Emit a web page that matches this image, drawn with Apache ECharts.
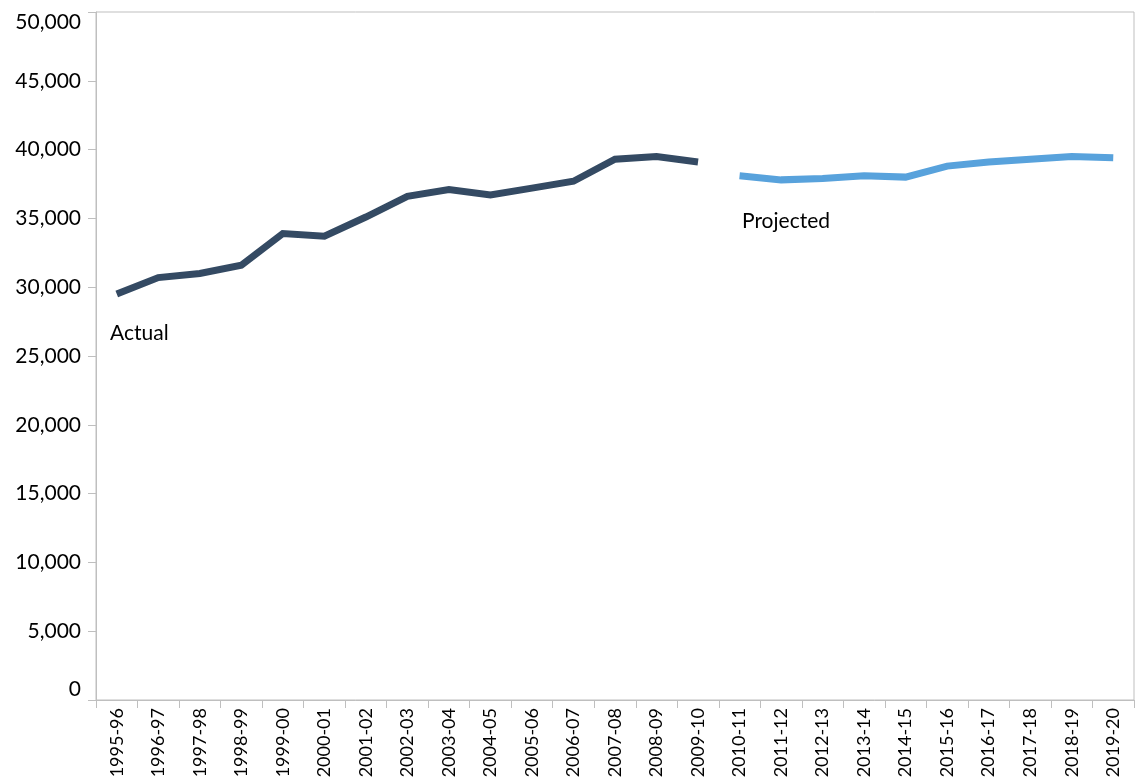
<!DOCTYPE html>
<html>
<head>
<meta charset="utf-8">
<title>Actual and projected enrolment</title>
<script src="https://cdn.jsdelivr.net/npm/echarts@6/dist/echarts.min.js"></script>
<style>
  html, body { margin: 0; padding: 0; background: #ffffff; }
  #chart { width: 1139px; height: 781px; }
</style>
</head>
<body>
<div id="chart"></div>
<script>
// School years on the category axis
const years = [
  '1995-96', '1996-97', '1997-98', '1998-99', '1999-00', '2000-01', '2001-02',
  '2002-03', '2003-04', '2004-05', '2005-06', '2006-07', '2007-08', '2008-09',
  '2009-10', '2010-11', '2011-12', '2012-13', '2013-14', '2014-15', '2015-16',
  '2016-17', '2017-18', '2018-19', '2019-20'
];

// Recorded values, 1995-96 to 2009-10
const actualValues = [
  29500, 30700, 31000, 31600, 33900, 33700, 35100, 36600,
  37100, 36700, 37200, 37700, 39300, 39500, 39100
];

// Forecast values, 2010-11 to 2019-20
const projectedValues = [
  38100, 37800, 37900, 38100, 38000, 38800, 39100, 39300, 39500, 39400
];

// Value axis settings
const yMin = 0;
const yMax = 50000;
const yStep = 5000;

// Text placed beside each line
const actualLabel = 'Actual';
const projectedLabel = 'Projected';

// Pad each series with nulls so the two lines sit on their own years
const actualSeries = actualValues.concat(new Array(years.length - actualValues.length).fill(null));
const projectedSeries = new Array(years.length - projectedValues.length).fill(null).concat(projectedValues);

const axisGray = '#bfbfbf';
const textFont = 'Lato, "Open Sans", sans-serif';

const chart = echarts.init(document.getElementById('chart'), null, { renderer: 'canvas' });

chart.setOption({
  animation: false,
  backgroundColor: '#ffffff',
  grid: {
    left: 96,
    right: 5,
    top: 12,
    bottom: 81,
    show: true,
    borderColor: axisGray,
    borderWidth: 1,
    backgroundColor: 'transparent'
  },
  xAxis: {
    type: 'category',
    data: years,
    boundaryGap: true,
    axisLine: { show: true, lineStyle: { color: axisGray, width: 1 } },
    axisTick: { show: true, alignWithLabel: false, length: 8, lineStyle: { color: axisGray } },
    axisLabel: {
      rotate: 90,
      margin: 8,
      interval: 0,
      color: '#000000',
      fontFamily: textFont,
      fontSize: 18
    },
    splitLine: { show: false }
  },
  yAxis: {
    type: 'value',
    min: yMin,
    max: yMax,
    interval: yStep,
    axisLine: { show: true, lineStyle: { color: axisGray, width: 1 } },
    axisTick: { show: true, inside: false, length: 8, lineStyle: { color: axisGray } },
    axisLabel: {
      margin: 15,
      color: '#000000',
      fontFamily: textFont,
      fontSize: 21,
      verticalAlignMinLabel: 'bottom',
      verticalAlignMaxLabel: 'top',
      formatter: v => v.toLocaleString('en-US')
    },
    splitLine: { show: false }
  },
  series: [
    {
      name: actualLabel,
      type: 'line',
      data: actualSeries,
      showSymbol: false,
      connectNulls: false,
      lineStyle: { color: '#344a63', width: 7, cap: 'butt', join: 'miter' },
      itemStyle: { color: '#344a63' }
    },
    {
      name: projectedLabel,
      type: 'line',
      data: projectedSeries,
      showSymbol: false,
      connectNulls: false,
      lineStyle: { color: '#58a2dc', width: 7, cap: 'butt', join: 'miter' },
      itemStyle: { color: '#58a2dc' }
    }
  ],
  graphic: [
    {
      type: 'text',
      left: 110,
      top: 323,
      style: { text: actualLabel, fill: '#000000', font: '21px ' + textFont }
    },
    {
      type: 'text',
      left: 742,
      top: 211,
      style: { text: projectedLabel, fill: '#000000', font: '21px ' + textFont }
    }
  ]
});
</script>
</body>
</html>
